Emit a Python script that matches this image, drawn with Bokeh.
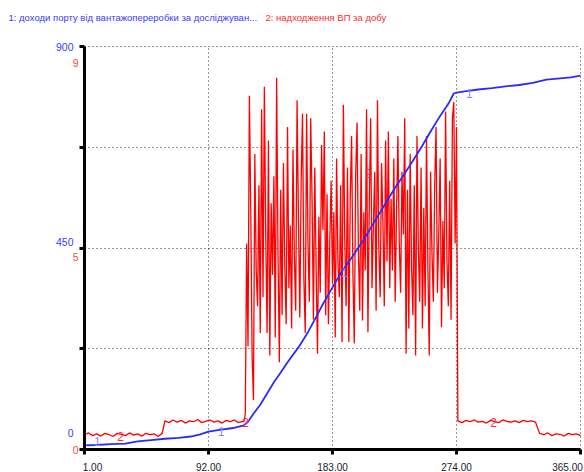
from bokeh.plotting import figure
from bokeh.models import Range1d, FixedTicker
from bokeh.core.properties import value
from bokeh.embed import file_html
from bokeh.resources import INLINE

# ---------------- data ----------------
title_1 = "1: доходи порту  від вантажопереробки за досліджуван..."
title_2 = "2: надходження ВП  за добу"

x_ticks = [1, 92, 183, 274, 365]
x_tick_labels = ["1.00", "92.00", "183.00", "274.00", "365.00"]
y_ticks = [0, 225, 450, 675, 900]
blue_scale_labels = ["900", "450", "0"]
red_scale_labels = ["9", "5", "0"]

# series 1 (blue, scale 0..900)
blue_days = [1, 10, 20, 31, 40, 50, 60, 70, 79, 86, 92, 100, 110, 118, 121, 125,
             130, 135, 140, 145, 150, 158, 165, 170, 176, 183, 190, 197, 206, 213,
             220, 228, 235, 242, 248, 255, 262, 268, 272, 274, 280, 290, 300, 310,
             320, 330, 340, 350, 358, 365]
blue_vals = [9, 10, 12, 13, 18, 21, 24, 26, 29, 34, 40, 44, 48, 54, 62, 80,
             100, 125, 150, 172, 195, 228, 262, 290, 325, 362, 398, 428, 469, 505,
             540, 580, 612, 645, 674, 710, 745, 772, 795, 797, 800, 804, 807, 811,
             814, 819, 826, 829, 831, 835]

# series 2 (red, scale 0..9)
red_days_early = list(range(1, 60, 3))
red_vals_early = [0.33, 0.37, 0.31, 0.35, 0.30, 0.36, 0.33, 0.29, 0.36, 0.34,
                  0.31, 0.37, 0.32, 0.35, 0.30, 0.36, 0.33, 0.35, 0.29, 0.36]
red_days_mid = list(range(60, 118, 3))
red_vals_mid = [0.64, 0.60, 0.66, 0.61, 0.65, 0.59, 0.64, 0.62, 0.67, 0.60,
                0.63, 0.66, 0.61, 0.64, 0.59, 0.65, 0.62, 0.66, 0.60, 0.63]
red_days_busy = list(range(118, 275))
red_vals_busy = [0.62, 0.80, 4.6, 2.3, 7.9, 5.4, 2.1, 1.1, 6.6, 4.0,
                 3.2, 5.9, 2.6, 7.6, 3.4, 8.1, 4.8, 2.6, 6.9, 2.1,
                 5.5, 3.9, 6.1, 2.5, 8.3, 4.4, 1.95, 5.8, 3.0, 6.4,
                 4.1, 2.8, 7.2, 3.6, 5.0, 2.7, 6.7, 4.3, 3.1, 7.8,
                 5.2, 2.95, 6.0, 7.5, 3.8, 2.6, 7.5, 4.6, 3.3, 7.4,
                 5.6, 2.9, 6.3, 4.0, 2.14, 5.2, 3.5, 6.8, 4.9, 7.1,
                 3.0, 5.7, 2.8, 4.6, 6.0, 3.7, 5.3, 2.5, 6.5, 4.2,
                 3.4, 5.9, 2.4, 7.7, 4.7, 3.2, 6.3, 2.4, 5.6, 7.0,
                 3.9, 2.37, 6.1, 7.3, 4.4, 3.1, 6.6, 2.88, 5.3, 4.0,
                 7.6, 2.62, 5.5, 7.4, 3.6, 5.0, 6.2, 3.1, 7.8, 4.5,
                 3.4, 6.4, 5.1, 3.2, 6.9, 4.2, 7.1, 3.6, 5.6, 4.0,
                 6.5, 3.3, 5.3, 7.0, 4.6, 3.5, 6.2, 4.8, 7.4, 2.14,
                 5.8, 2.7, 6.6, 4.1, 3.0, 5.9, 2.1, 7.0, 4.5, 3.3,
                 6.3, 2.7, 5.4, 3.2, 7.0, 4.1, 2.1, 6.2, 4.4, 3.3,
                 5.9, 7.2, 3.5, 4.8, 6.5, 2.73, 5.1, 3.6, 7.55, 4.2,
                 3.2, 6.0, 2.9, 7.4, 7.76, 4.6, 7.2]
red_days_late = list(range(275, 333, 3))
red_vals_late = [0.64, 0.60, 0.65, 0.62, 0.66, 0.61, 0.63, 0.59, 0.65, 0.62,
                 0.60, 0.66, 0.63, 0.61, 0.64, 0.60, 0.65, 0.62, 0.64, 0.61]
red_days_end = list(range(335, 366, 3))
red_vals_end = [0.36, 0.33, 0.37, 0.31, 0.35, 0.34, 0.30, 0.36, 0.33, 0.35, 0.31]

# curve marker labels
lab1_days = [10.5, 101.3, 191.8, 283.5]
lab1_vals = [18, 41, 395, 796]
lab2_days = [27.4, 119.2, 209.2, 301.2]
lab2_vals = [0.29, 0.61, 6.16, 0.61]

# ---------------- geometry (pixels) ----------------
W, H = 584, 472
FX0, FX1 = 84, 580      # plot area left / right pixel
FY0, FY1 = 46, 449      # plot area top / bottom pixel
dpp = (x_ticks[-1] - x_ticks[0]) / (FX1 - FX0)     # days per pixel
vpp = (y_ticks[-1] - y_ticks[0]) / (FY1 - FY0)     # blue units per pixel
rpp = 9.0 / (FY1 - FY0)                            # red units per pixel

def dx(px):
    return x_ticks[0] + (px - FX0) * dpp

def by(py):
    return (FY1 - py) * vpp

def ry(py):
    return (FY1 - py) * rpp

BLUE = "#2b2bff"
RED = "#ff0000"
FONT = "Liberation Sans"

p = figure(width=W, height=H,
           x_range=Range1d(dx(0), dx(W)), y_range=Range1d(by(H), by(0)),
           output_backend="svg", toolbar_location=None, title=None,
           min_border_left=0, min_border_right=0, min_border_top=0, min_border_bottom=0)
p.extra_y_ranges = {"red": Range1d(ry(H), ry(0))}
p.background_fill_color = "white"
p.border_fill_color = "white"
p.outline_line_color = None

# --- axes drawn inside the canvas at the plot-area edges ---
xa = p.xaxis[0]
ya = p.yaxis[0]
xa.fixed_location = 0
ya.fixed_location = 1
xa.bounds = (x_ticks[0], x_ticks[-1])
ya.bounds = (y_ticks[0], y_ticks[-1])

# x: labels on major ticks (label centres), tick marks on minor ticks
x_label_pos = [round(dx(92), 2), 92, 183, 274, round(dx(567), 2)]
xa.ticker = FixedTicker(ticks=x_label_pos, minor_ticks=x_ticks)
xa.major_label_overrides = {pos: lbl for pos, lbl in zip(x_label_pos, x_tick_labels)}
# y: blue labels on major ticks, tick marks on minor ticks
y_label_pos = [900, round(by(241.7), 1), round(by(432.7), 1)]
ya.ticker = FixedTicker(ticks=y_label_pos, minor_ticks=y_ticks)
ya.major_label_overrides = {pos: lbl for pos, lbl in zip(y_label_pos, blue_scale_labels)}

for ax in (xa, ya):
    ax.axis_line_width = 3
    ax.axis_line_color = "black"
    ax.major_tick_line_color = None
    ax.major_tick_in = 0
    ax.major_tick_out = 0
    ax.minor_tick_line_color = "black"
    ax.minor_tick_line_width = 3
    ax.minor_tick_in = 0
    ax.minor_tick_out = 5
    ax.major_label_text_font = FONT
    ax.major_label_text_font_size = "10.5px"
xa.major_label_standoff = 8
xa.major_label_text_font_size = "10px"
xa.major_label_text_color = "#1c1c30"
ya.major_label_standoff = 6
ya.major_label_text_color = "#3a3aff"

# --- grid (dotted) ---
gx = p.xgrid[0]
gy = p.ygrid[0]
gx.ticker = FixedTicker(ticks=x_ticks[1:])
gy.ticker = FixedTicker(ticks=y_ticks[1:])
for g in (gx, gy):
    g.grid_line_color = "black"
    g.grid_line_dash = "1 3"
    g.grid_line_width = 1
    g.grid_line_alpha = 0.85
if "cross_bounds" in gx.properties():
    gx.cross_bounds = (y_ticks[0], y_ticks[-1])
    gy.cross_bounds = (x_ticks[0], x_ticks[-1])
else:
    gx.visible = False
    gy.visible = False
    p.segment(x0=x_ticks[1:], x1=x_ticks[1:], y0=[y_ticks[0]] * 4, y1=[y_ticks[-1]] * 4,
              line_color="black", line_dash="1 3", line_width=1, line_alpha=0.85)
    p.segment(x0=[x_ticks[0]] * 4, x1=[x_ticks[-1]] * 4, y0=y_ticks[1:], y1=y_ticks[1:],
              line_color="black", line_dash="1 3", line_width=1, line_alpha=0.85)

# --- series ---
red_days = red_days_early + red_days_mid + red_days_busy + red_days_late + red_days_end
red_vals = red_vals_early + red_vals_mid + red_vals_busy + red_vals_late + red_vals_end
p.line(red_days, red_vals, y_range_name="red", line_color=RED, line_width=1.3)
p.line(blue_days, blue_vals, line_color=BLUE, line_width=1.8)

# curve labels
p.text(x=lab1_days, y=lab1_vals, text=["1"] * len(lab1_days), text_color="#8a8aff",
       text_font_size="12px", text_align="center", text_baseline="middle",
       text_font=value(FONT))
p.text(x=lab2_days, y=lab2_vals, y_range_name="red", text=["2"] * len(lab2_days),
       text_color="#ff2a50", text_font_size="12px", text_align="center",
       text_baseline="middle", text_font=value(FONT))

# red scale labels (stacked under the blue ones)
p.text(x=[dx(78)] * 3, y=[ry(62), ry(256.7), ry(449)], y_range_name="red",
       text=red_scale_labels, text_color="#ff4a3a", text_font_size="10.5px",
       text_align="right", text_baseline="middle", text_font=value(FONT))

# header
p.text(x=[dx(8)], y=[by(17)], text=[title_1], text_color="#3a3aff",
       text_font_size="9.5px", text_align="left", text_baseline="middle",
       text_font=value(FONT))
p.text(x=[dx(265)], y=[by(17)], text=[title_2], text_color="#ff2a2a",
       text_font_size="9.5px", text_align="left", text_baseline="middle",
       text_font=value(FONT))

open("out.html", "w").write(file_html(p, INLINE))
